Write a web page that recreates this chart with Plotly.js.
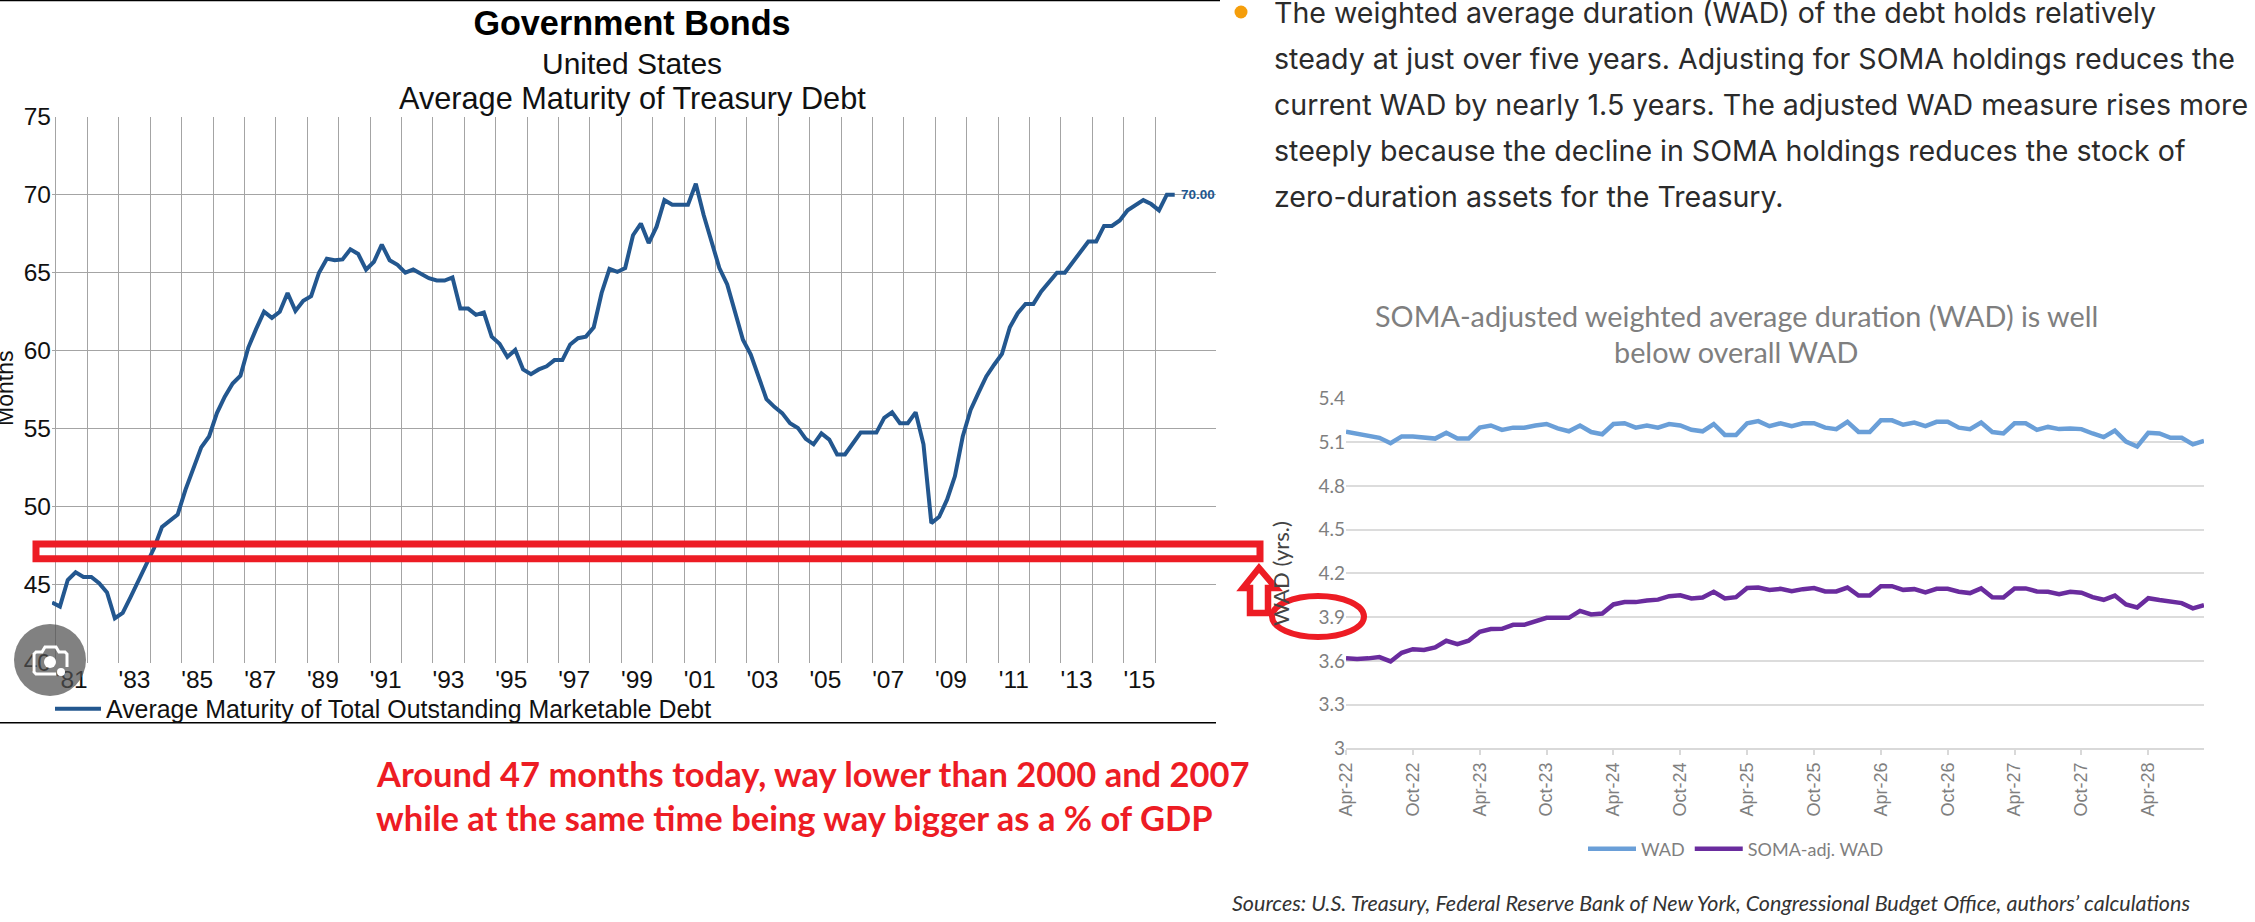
<!DOCTYPE html>
<html>
<head>
<meta charset="utf-8">
<script src="https://cdn.plot.ly/plotly-3.0.1.min.js"></script>
<style>html,body{margin:0;padding:0;background:#fff}#chart{width:2255px;height:922px}</style>
</head>
<body>
<div id="chart"></div>
<script>
/* ---------- data: average maturity of Treasury debt (months), quarterly ---------- */
var firstQuarter = 1980.875;
var maturityMonths = [
 43.86,43.6,45.3,45.8,45.5,45.5,45.1,44.5,42.85,43.2,44.2,45.3,46.4,47.35,48.7,49.1,49.5,51.1,52.5,53.8,
 54.5,56.0,57.05,57.9,58.4,60.2,61.4,62.5,62.1,62.5,63.7,62.55,63.2,63.5,65.0,65.9,65.8,65.85,66.5,66.2,
 65.2,65.7,66.8,65.8,65.5,65.0,65.2,64.95,64.65,64.5,64.5,64.7,62.7,62.7,62.3,62.45,60.9,60.45,59.6,60.05,
 58.8,58.5,58.8,59.0,59.4,59.4,60.4,60.8,60.9,61.5,63.7,65.25,65.05,65.3,67.4,68.15,66.9,67.95,69.65,69.35,
 69.35,69.35,70.7,68.7,67.0,65.3,64.25,62.5,60.7,59.75,58.35,56.9,56.4,56.0,55.35,55.05,54.35,54.0,54.7,54.3,
 53.35,53.35,54.05,54.75,54.75,54.75,55.7,56.05,55.35,55.35,56.05,54.0,48.95,49.35,50.45,51.95,54.5,56.2,57.3,58.35,
 59.1,59.8,61.5,62.4,63.0,63.0,63.8,64.45,65.0,65.0,65.7,66.35,67.0,67.0,68.0,68.0,68.35,69.0,69.35,69.65,
 69.4,69.0,70.0,70.0
];
var gridYears = [1981,1982,1983,1984,1985,1986,1987,1988,1989,1990,1991,1992,1993,1994,1995,1996,1997,1998,1999,2000,2001,2002,2003,2004,2005,2006,2007,2008,2009,2010,2011,2012,2013,2014,2015,2016];
var labelYears = [1981,1983,1985,1987,1989,1991,1993,1995,1997,1999,2001,2003,2005,2007,2009,2011,2013,2015];
var labelYearText = ["'81","'83","'85","'87","'89","'91","'93","'95","'97","'99","'01","'03","'05","'07","'09","'11","'13","'15"];
var maturityTicks = [40,45,50,55,60,65,70,75];

/* ---------- data: weighted average duration (years), monthly Apr-22 to Sep-28 ---------- */
var months = [
 "Apr-22","May-22","Jun-22","Jul-22","Aug-22","Sep-22","Oct-22","Nov-22","Dec-22","Jan-23","Feb-23","Mar-23",
 "Apr-23","May-23","Jun-23","Jul-23","Aug-23","Sep-23","Oct-23","Nov-23","Dec-23","Jan-24","Feb-24","Mar-24",
 "Apr-24","May-24","Jun-24","Jul-24","Aug-24","Sep-24","Oct-24","Nov-24","Dec-24","Jan-25","Feb-25","Mar-25",
 "Apr-25","May-25","Jun-25","Jul-25","Aug-25","Sep-25","Oct-25","Nov-25","Dec-25","Jan-26","Feb-26","Mar-26",
 "Apr-26","May-26","Jun-26","Jul-26","Aug-26","Sep-26","Oct-26","Nov-26","Dec-26","Jan-27","Feb-27","Mar-27",
 "Apr-27","May-27","Jun-27","Jul-27","Aug-27","Sep-27","Oct-27","Nov-27","Dec-27","Jan-28","Feb-28","Mar-28",
 "Apr-28","May-28","Jun-28","Jul-28","Aug-28","Sep-28"
];
var wad = [
 5.173,5.16,5.146,5.13,5.093,5.14,5.14,5.13,5.125,5.165,5.125,5.125,5.2,5.215,5.185,5.2,5.2,5.215,5.225,5.195,
 5.175,5.215,5.17,5.155,5.225,5.23,5.2,5.215,5.2,5.225,5.215,5.185,5.175,5.225,5.15,5.15,5.23,5.245,5.21,5.23,
 5.21,5.23,5.23,5.2,5.19,5.24,5.17,5.17,5.25,5.25,5.22,5.235,5.21,5.24,5.24,5.2,5.19,5.235,5.17,5.16,
 5.23,5.23,5.185,5.205,5.19,5.195,5.19,5.16,5.135,5.18,5.105,5.07,5.165,5.16,5.13,5.13,5.085,5.11
];
var somaWad = [
 3.617,3.612,3.617,3.626,3.596,3.655,3.68,3.674,3.692,3.738,3.715,3.738,3.8,3.818,3.82,3.847,3.847,3.875,3.895,3.895,
 3.895,3.943,3.918,3.925,3.987,4.003,4.003,4.014,4.02,4.044,4.05,4.028,4.035,4.074,4.028,4.037,4.1,4.103,4.087,4.094,
 4.078,4.092,4.1,4.076,4.076,4.103,4.048,4.048,4.112,4.112,4.087,4.092,4.069,4.094,4.094,4.074,4.065,4.097,4.037,4.035,
 4.097,4.097,4.076,4.074,4.058,4.074,4.067,4.037,4.019,4.048,3.987,3.966,4.03,4.017,4.003,3.996,3.96,3.982
];
var wadTicks = [3,3.3,3.6,3.9,4.2,4.5,4.8,5.1,5.4];
var wadTickText = ["3","3.3","3.6","3.9","4.2","4.5","4.8","5.1","5.4"];

/* ---------- text ---------- */
var paragraphLines = [
 "The weighted average duration (WAD) of the debt holds relatively",
 "steady at just over five years. Adjusting for SOMA holdings reduces the",
 "current WAD by nearly 1.5 years. The adjusted WAD measure rises more",
 "steeply because the decline in SOMA holdings reduces the stock of",
 "zero-duration assets for the Treasury."
];
var redLines = [
 "Around 47 months today, way lower than 2000 and 2007",
 "while at the same time being way bigger as a % of GDP"
];

/* ---------- helpers for page-level placement ---------- */
var W = 2255, H = 922;
function px(x){ return x / W; }
function py(y){ return 1 - y / H; }
function note(text, x, y, size, color, family, anchor, extra){
  var a = {text:text, xref:'paper', yref:'paper', x:px(x), y:py(y), xanchor:anchor||'left', yanchor:'middle',
           showarrow:false, font:{size:size, color:color, family:family}};
  if (extra) for (var k in extra) a[k] = extra[k];
  return a;
}
function pathOf(points, closed){
  return points.map(function(p,i){ return (i?'L':'M') + px(p[0]) + ',' + py(p[1]); }).join(' ') + (closed ? ' Z' : '');
}
function ell(x0,y0,x1,y1,style){
  var s = {type:'circle', xref:'paper', yref:'paper', x0:px(x0), x1:px(x1), y0:py(y0), y1:py(y1), layer:'above'};
  for (var k in style) s[k] = style[k];
  return s;
}
function poly(points,style,open){
  var s = {type:'path', xref:'paper', yref:'paper', path:pathOf(points, !open), layer:'above'};
  for (var k in style) s[k] = style[k];
  return s;
}
function ln(x0,y0,x1,y1,color,w){
  return {type:'line', xref:'paper', yref:'paper', x0:px(x0), x1:px(x1), y0:py(y0), y1:py(y1), line:{color:color,width:w}, layer:'above'};
}

var quarters = maturityMonths.map(function(_, i){ return firstQuarter + 0.25 * i; });
var lastIdx = maturityMonths.length - 1;

var ARIAL = '"Liberation Sans", Arial, sans-serif';
var CAL = 'Lato, sans-serif';
var BODY = 'Inter, sans-serif';
var RED = '#ed1c24';
var GREY = '#7f7f7f';
var BLUE = '#23578f';
var xRangeLeft = [1980.87, 2017.94];
var xDomainLeft = [px(51.9), px(1216)];

var traces = [
  {x:quarters, y:maturityMonths, xaxis:'x', yaxis:'y', type:'scatter', mode:'lines', cliponaxis:false,
   name:'Average Maturity of Total Outstanding Marketable Debt',
   line:{color:BLUE, width:4}, legend:'legend'},
  {x:months, y:wad, xaxis:'x2', yaxis:'y2', type:'scatter', mode:'lines', cliponaxis:false, name:'WAD',
   line:{color:'#6a9fd8', width:4.5}, legend:'legend2'},
  {x:months, y:somaWad, xaxis:'x2', yaxis:'y2', type:'scatter', mode:'lines', cliponaxis:false, name:'SOMA-adj. WAD',
   line:{color:'#6a2c9e', width:4.5}, legend:'legend2'},
  {x:labelYears.map(function(y){ return y + 0.5; }), y:labelYears.map(function(){ return null; }),
   xaxis:'x3', yaxis:'y', type:'scatter', mode:'lines', showlegend:false, hoverinfo:'skip'}
];

var layout = {
  width:W, height:H, autosize:false, paper_bgcolor:'#fff', plot_bgcolor:'#fff',
  margin:{l:0,r:0,t:0,b:0}, hovermode:false,
  title:{text:'<b>Government Bonds</b>', xref:'paper', yref:'paper', x:px(632), y:py(23), xanchor:'center', yanchor:'middle',
         font:{size:34.2, color:'#000', family:ARIAL}},
  xaxis:{domain:xDomainLeft, range:xRangeLeft, type:'linear', anchor:'y',
         tickmode:'array', tickvals:gridYears, showticklabels:false, ticks:'',
         showgrid:true, gridcolor:'#a4a4a4', gridwidth:1.3, zeroline:false, showline:false},
  xaxis3:{domain:xDomainLeft, range:xRangeLeft, type:'linear', anchor:'y', overlaying:'x',
         tickmode:'array', tickvals:labelYears.map(function(y){ return y + 0.5; }), ticktext:labelYearText,
         ticks:'', ticklen:0, showgrid:false, zeroline:false, showline:false,
         tickfont:{size:24.5, color:'#111', family:ARIAL}},
  yaxis:{domain:[py(662.7),py(116.7)], range:[40,75], anchor:'x', tickmode:'array', tickvals:maturityTicks,
         showgrid:true, gridcolor:'#a4a4a4', gridwidth:1.3, zeroline:false, showline:false, ticks:'', ticklen:0,
         tickfont:{size:24.5, color:'#111', family:ARIAL}},
  xaxis2:{domain:[px(1346),px(2204)], range:[0,77], type:'category', anchor:'y2', tickmode:'linear', tick0:0, dtick:6,
         tickangle:-90, showgrid:false, zeroline:false, showline:true, linecolor:'#d9d9d9', linewidth:2,
         ticks:'outside', ticklen:5, tickcolor:'#d9d9d9', tickwidth:1.5,
         tickfont:{size:18, color:GREY, family:ARIAL}},
  yaxis2:{domain:[py(748.3),py(398.5)], range:[3,5.4], anchor:'x2', tickmode:'array', tickvals:wadTicks, ticktext:wadTickText,
         showgrid:true, gridcolor:'#dcdcdc', gridwidth:1.6, zeroline:false, showline:false, ticks:'',
         tickfont:{size:19, color:GREY, family:CAL},
         title:{text:'WAD (yrs.)', standoff:22, font:{size:22, color:'#444', family:CAL}}},
  showlegend:true,
  legend:{x:px(50), y:py(709), xanchor:'left', yanchor:'middle', bgcolor:'rgba(0,0,0,0)', itemwidth:46,
          font:{size:24.9, color:'#111', family:ARIAL}, itemclick:false, itemdoubleclick:false},
  legend2:{x:px(1583), y:py(849), xanchor:'left', yanchor:'middle', orientation:'h', bgcolor:'rgba(0,0,0,0)', itemwidth:48,
          font:{size:18, color:GREY, family:CAL}, itemclick:false, itemdoubleclick:false},
  annotations:[
    note('Months', 5, 389, 23, '#111', ARIAL, 'center', {textangle:-90}),
    {text:'<b>' + maturityMonths[lastIdx].toFixed(2) + '</b>', xref:'x', yref:'y', x:quarters[lastIdx], y:maturityMonths[lastIdx],
     xanchor:'left', yanchor:'middle', xshift:4, showarrow:false, font:{size:13.5, color:BLUE, family:ARIAL}},
    note('United States', 632, 63, 30, '#111', ARIAL, 'center'),
    note('Average Maturity of Treasury Debt', 632, 98, 30.7, '#111', ARIAL, 'center'),
    note(paragraphLines[0], 1272, 13, 28.55, '#2b2b2b', BODY),
    note(paragraphLines[1], 1272, 59, 28.55, '#2b2b2b', BODY),
    note(paragraphLines[2], 1272, 105, 28.55, '#2b2b2b', BODY),
    note(paragraphLines[3], 1272, 151, 28.55, '#2b2b2b', BODY),
    note(paragraphLines[4], 1272, 197, 28.55, '#2b2b2b', BODY),
    note('SOMA-adjusted weighted average duration (WAD) is well', 1736, 316, 28.8, GREY, CAL, 'center'),
    note('below overall WAD', 1736, 352, 28.8, GREY, CAL, 'center'),
    note('<b>' + redLines[0] + '</b>', 374, 773, 34.5, RED, CAL),
    note('<b>' + redLines[1] + '</b>', 374, 817, 34.5, RED, CAL),
    note('<i>Sources: U.S. Treasury, Federal Reserve Bank of New York, Congressional Budget Office, authors’ calculations</i>', 1230, 903, 21.5, '#333', CAL)
  ],
  shapes:[
    ln(0,0.5,1220,0.5,'#000',1.5),
    ln(0,722.7,1216,722.7,'#000',1.5),
    ell(1234.5,5.5,1247.5,18.5,{fillcolor:'#f59e0b', line:{width:0}}),
    /* red highlight band and arrow */
    poly([[36,544],[1260,544],[1260,558.7],[36,558.7]],{line:{color:RED,width:7}, fillcolor:'rgba(0,0,0,0)'}),
    poly([[1259,568],[1276,588],[1268,588],[1268,613],[1250,613],[1250,588],[1243,588]],{line:{color:RED,width:6.5}, fillcolor:'#fff'}),
    ell(1272,596,1364,637,{line:{color:RED,width:6}, fillcolor:'rgba(0,0,0,0)'}),
    /* lens-style badge */
    ell(14,624,86,696,{line:{width:0}, fillcolor:'rgba(80,80,80,0.72)'}),
    poly([[56,674],[36,674],[34,672],[34,654],[36,652],[42,652],[45,647],[56,647],[59,652],[65,652],[67,654],[67,667]],
         {line:{color:'#fff',width:3}, fillcolor:'rgba(0,0,0,0)'}, true),
    ell(44,656,56,668,{line:{width:0}, fillcolor:'#fff'}),
    ell(57,668,65,676,{line:{width:0}, fillcolor:'#fff'})
  ]
};

Plotly.newPlot('chart', traces, layout, {displayModeBar:false, responsive:false});
</script>
</body>
</html>
